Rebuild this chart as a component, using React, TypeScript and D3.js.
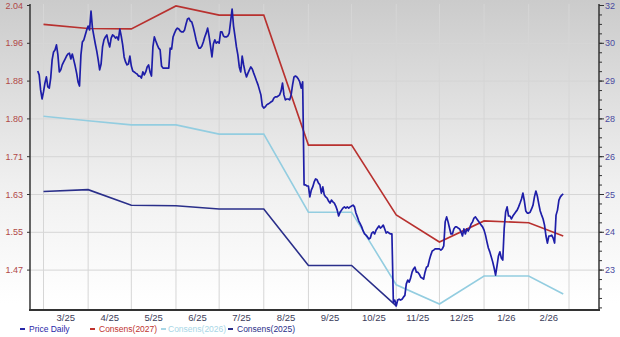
import React from 'react';
import * as d3 from 'd3';

const W = 620;
const H = 337;

// Price Daily (right axis), one value per calendar day starting at priceStart
const priceStart = '2025-02-25';
const priceDaily = [
  29.77, 29.64, 29.13, 28.82, 29.06,
  29.36, 29.57, 29.23, 29.19, 29.53, 30.15, 30.42, 30.49, 30.66, 30.32,
  29.74, 29.81, 29.98, 30.08, 30.18, 30.28, 30.35, 30.38, 30.18, 30.35,
  30.15, 29.94, 29.70, 29.40, 29.26, 30.32, 30.76, 30.83, 31.00, 31.17,
  31.30, 31.17, 31.81, 31.23, 30.96, 30.69, 30.45, 30.15, 29.81, 30.01,
  30.59, 30.83, 30.93, 31.00, 30.76, 30.59, 30.89, 31.00, 30.96, 30.89,
  30.93, 30.83, 31.20, 30.96, 30.66, 30.25, 30.08, 29.98, 30.01, 30.28,
  29.94, 29.77, 29.74, 29.70, 29.67, 29.60, 29.60, 29.53, 29.74, 29.64,
  29.74, 29.91, 29.98, 29.74, 29.60, 30.59, 30.93, 30.79, 30.66, 30.55,
  30.49, 29.94, 29.87, 29.87, 29.87, 29.87, 29.87, 30.55, 30.52, 30.93,
  31.06, 31.17, 31.23, 31.20, 31.13, 31.10, 31.10, 31.17, 31.37, 31.54,
  31.57, 31.47, 31.44, 31.27, 31.06, 30.83, 30.66, 30.55, 30.55, 30.62,
  30.76, 30.93, 31.06, 31.23, 30.96, 30.62, 30.25, 30.69, 30.83, 30.72,
  30.76, 30.72, 31.10, 31.10, 30.96, 30.93, 30.93, 30.96, 31.06, 31.47,
  31.88, 31.30, 30.96, 30.59, 30.32, 29.91, 29.74, 30.28, 29.98, 29.74,
  29.57, 29.70, 29.81, 29.91, 29.84, 29.70, 29.57, 29.43, 29.30, 29.13,
  28.96, 28.58, 28.51, 28.55, 28.62, 28.65, 28.68, 28.72, 28.75, 28.85,
  28.89, 28.89, 28.92, 28.96, 29.09, 29.36, 28.96, 28.79, 28.82, 28.82,
  28.79, 28.96, 29.30, 29.57, 29.60, 29.57, 29.50, 29.40, 29.19, 29.40,
  25.90, 25.90, 25.86, 25.86, 25.49, 25.72, 25.83, 26.00, 26.10, 26.07,
  25.96, 25.90, 25.62, 25.83, 25.56, 25.49, 25.45, 25.35, 25.28, 25.38,
  25.32, 25.28, 25.18, 25.04, 24.84, 24.97, 25.04, 25.11, 25.15, 25.11,
  25.15, 25.11, 25.15, 25.18, 25.21, 25.15, 24.94, 24.81, 24.67, 24.57,
  24.47, 24.33, 24.23, 24.19, 24.13, 24.06, 24.09, 24.26, 24.30, 24.23,
  24.36, 24.43, 24.50, 24.43, 24.47, 24.53, 24.40, 24.26, 24.30, 24.26,
  24.23, 24.23, 21.91, 21.98, 21.78, 21.98, 22.01, 21.98, 22.01, 22.08,
  22.14, 22.53, 22.66, 22.59, 22.73, 22.93, 23.04, 23.10, 22.93, 22.93,
  22.86, 22.76, 22.73, 22.69, 22.93, 23.10, 23.13, 23.34, 23.51, 23.65,
  23.68, 23.72, 23.72, 23.72, 23.72, 23.68, 23.72, 23.82, 24.64, 24.81,
  24.64, 24.43, 24.23, 24.23, 24.40, 24.47, 24.47, 24.43, 24.40, 24.30,
  24.16, 24.40, 24.23, 24.40, 24.33, 24.43, 24.57, 24.64, 24.77, 24.81,
  24.74, 24.67, 24.60, 24.53, 24.47, 24.36, 24.19, 23.96, 23.75, 23.62,
  23.45, 23.28, 23.07, 22.83, 23.14, 23.48, 23.62, 23.41, 23.34, 24.43,
  24.98, 25.15, 24.84, 24.84, 24.74, 24.84, 24.91, 24.98, 25.04, 25.15,
  25.28, 25.42, 25.62, 25.35, 25.01, 24.94, 24.94, 24.97, 25.08, 25.21,
  25.49, 25.69, 25.52, 25.25, 25.01, 24.87, 24.74, 24.53, 24.16, 23.92,
  24.16, 24.16, 24.19, 24.09, 23.92, 24.87, 25.04, 25.38, 25.49, 25.55, 25.59,
];

// Consensus estimates (left axis)
const consensDates = [
  '2025-03-01', '2025-04-01', '2025-05-01', '2025-06-01', '2025-07-01', '2025-08-01',
  '2025-09-01', '2025-10-01', '2025-11-01', '2025-12-01', '2026-01-01', '2026-02-01', '2026-02-25',
];
const consens2027 = [2.003, 1.994, 1.993, 2.043, 2.023, 2.023, 1.740, 1.740, 1.588, 1.529, 1.575, 1.571, 1.542];
const consens2026 = [1.803, 1.793, 1.784, 1.784, 1.764, 1.764, 1.594, 1.594, 1.436, 1.394, 1.455, 1.455, 1.416];
const consens2025 = [1.639, 1.643, 1.609, 1.608, 1.601, 1.601, 1.478, 1.478, 1.390];

// Axis ticks
const leftTicks = [2.044, 1.9617, 1.8794, 1.7971, 1.7148, 1.6325, 1.5502, 1.4679];
const rightTicks = [32, 30.714, 29.429, 28.143, 26.857, 25.571, 24.286, 23];
const rightTickLabels = ['32', '30', '29', '28', '26', '25', '24', '23'];

const legendItems = [
  { label: 'Price Daily', color: '#2828a8', mx: 20, tx: 29 },
  { label: 'Consens(2027)', color: '#c0332f', mx: 90, tx: 99 },
  { label: 'Consens(2026)', color: '#a8d6e6', mx: 161, tx: 168 },
  { label: 'Consens(2025)', color: '#2a2f8a', mx: 228, tx: 237 },
];

const parse = d3.timeParse('%Y-%m-%d');

export default function App() {
  const left = 30, right = 599, bottom = 310;
  const x = d3.scaleTime()
    .domain([new Date(2025, 1, 19, 15), new Date(2026, 2, 21, 20)])
    .range([left, right]);
  const yL = d3.scaleLinear().domain([1.4679, 2.044]).range([270.1, 5.5]);
  const yR = d3.scaleLinear().domain([23, 32]).range([270.1, 5.5]);

  const start = parse(priceStart) as Date;
  const priceData = priceDaily.map((v, i) => ({ d: d3.timeDay.offset(start, i), v }));
  const cDates = consensDates.map((s) => parse(s) as Date);

  const priceLine = d3.line<{ d: Date; v: number }>().x((p) => x(p.d)).y((p) => yR(p.v));
  const consLine = d3.line<[Date, number]>().x((p) => x(p[0])).y((p) => yL(p[1]));
  const mk = (vals: number[]) => vals.map((v, i) => [cDates[i], v] as [Date, number]);

  const months = d3.timeMonth.range(new Date(2025, 2, 1), new Date(2026, 2, 2));
  const monthLabels = months.slice(0, -1).map((m, i) => {
    const mid = new Date((m.getTime() + months[i + 1].getTime()) / 2);
    return { x: x(mid), label: d3.timeFormat('%-m/%y')(m) };
  });

  const minorStep = (32 - 23) / 7 / 4;
  const minorTicks = d3.range(0, 40).map((k) => 32 - k * minorStep).filter((v) => yR(v) <= bottom - 1);

  const font = 'Liberation Sans, Arial, sans-serif';

  return (
    <svg width={W} height={H} style={{ position: 'absolute', left: 0, top: 0 }} fontFamily={font}>
      <defs>
        <linearGradient id="bg" x1="0" y1="0" x2="0" y2="1">
          <stop offset="0" stopColor="#cbcbcb" />
          <stop offset="0.55" stopColor="#f0f0f0" />
          <stop offset="0.9" stopColor="#ffffff" />
        </linearGradient>
      </defs>
      <rect x={0} y={0} width={W} height={H} fill="url(#bg)" />

      {/* gridlines */}
      {leftTicks.slice(1).map((t) => (
        <line key={'h' + t} x1={left} x2={right} y1={yL(t)} y2={yL(t)} stroke="#d6d6d6" strokeWidth={1} />
      ))}
      {months.map((m) => (
        <line key={'v' + m.getTime()} x1={x(m)} x2={x(m)} y1={4} y2={bottom} stroke="#d6d6d6" strokeWidth={1} />
      ))}

      {/* consensus lines */}
      <path d={consLine(mk(consens2026)) || ''} fill="none" stroke="#93cde0" strokeWidth={1.6} />
      <path d={consLine(mk(consens2025)) || ''} fill="none" stroke="#2a2f8a" strokeWidth={1.6} />
      <path d={consLine(mk(consens2027)) || ''} fill="none" stroke="#b8312f" strokeWidth={1.6} />
      <path d={priceLine(priceData) || ''} fill="none" stroke="#1e1ea8" strokeWidth={1.7} strokeLinejoin="round" />

      {/* axes */}
      <line x1={left} x2={left} y1={4} y2={bottom} stroke="#333" strokeWidth={1.5} />
      <line x1={right} x2={right} y1={4} y2={bottom} stroke="#333" strokeWidth={1.5} />
      <line x1={left - 1} x2={right + 1} y1={bottom} y2={bottom} stroke="#333" strokeWidth={2} />

      {leftTicks.map((t) => (
        <g key={'lt' + t}>
          <line x1={left - 3} x2={left} y1={yL(t)} y2={yL(t)} stroke="#333" strokeWidth={1} />
          <text x={23} y={yL(t)} dy="0.35em" textAnchor="end" fontSize={9} fill="#b04848">
            {d3.format('.2f')(t)}
          </text>
        </g>
      ))}

      {minorTicks.map((v) => (
        <line key={'mt' + v} x1={right} x2={right + 3} y1={yR(v)} y2={yR(v)} stroke="#333" strokeWidth={1} />
      ))}
      {rightTicks.map((t, i) => (
        <g key={'rt' + t}>
          <line x1={right} x2={right + 5} y1={yR(t)} y2={yR(t)} stroke="#333" strokeWidth={1} />
          <text x={605} y={yR(t)} dy="0.35em" textAnchor="start" fontSize={9} fill="#4a4aa0">
            {rightTickLabels[i]}
          </text>
        </g>
      ))}

      {monthLabels.map((m) => (
        <text key={'ml' + m.label} x={m.x} y={321} textAnchor="middle" fontSize={9.5} fill="#3c3c5a">
          {m.label}
        </text>
      ))}

      {/* legend */}
      {legendItems.map((it) => (
        <g key={it.label}>
          <rect x={it.mx} y={328} width={5} height={2} fill={it.color} />
          <text x={it.tx} y={332} fontSize={8.5} fill={it.color}>
            {it.label}
          </text>
        </g>
      ))}
    </svg>
  );
}
